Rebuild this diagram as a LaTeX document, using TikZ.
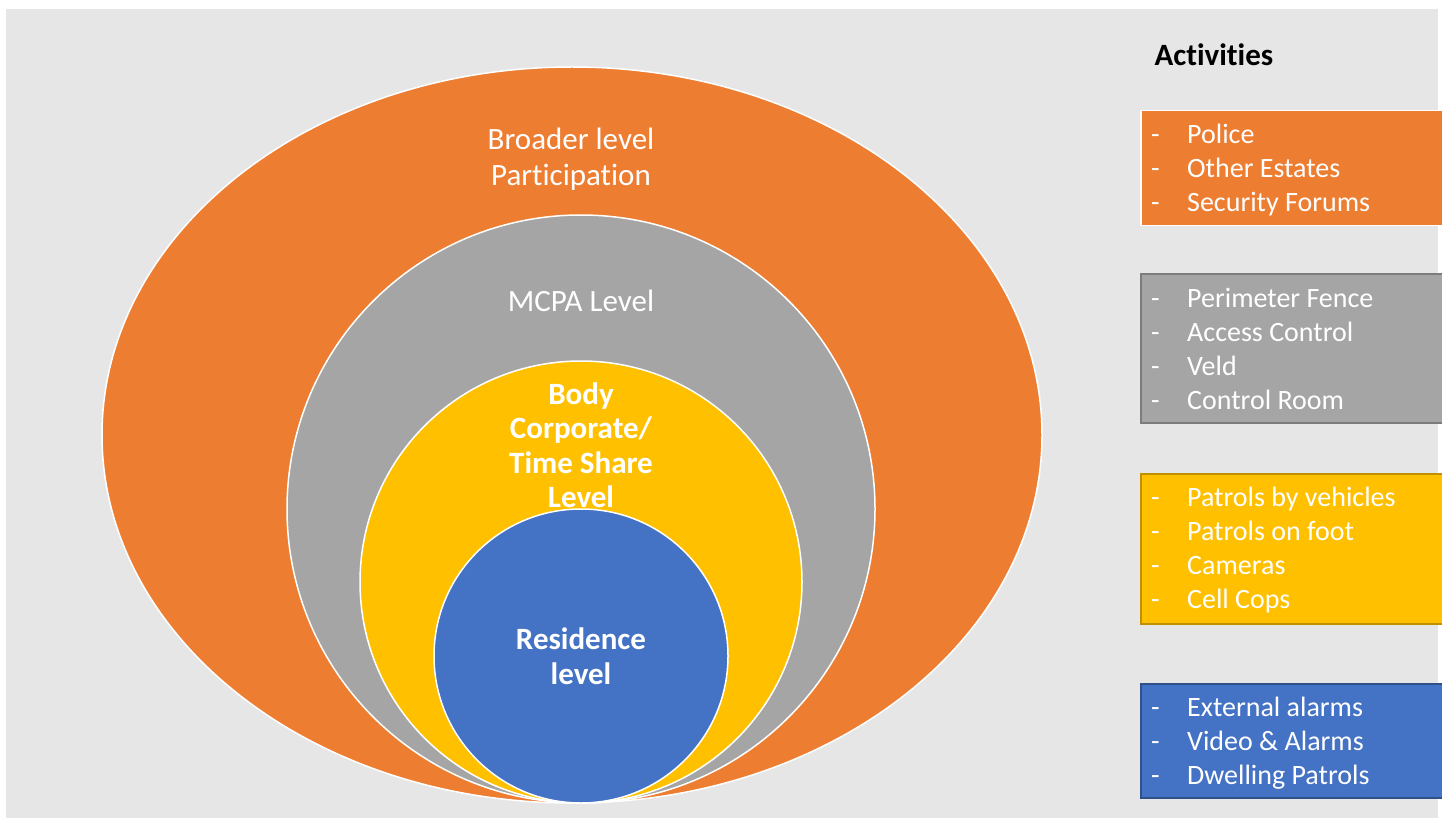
\documentclass[tikz,border=0pt]{standalone}
\usepackage{fontspec}
\setmainfont{Carlito}[Ligatures=NoCommon]
\usepackage{xcolor}

\definecolor{bggray}{HTML}{E7E6E6}
\definecolor{lvorange}{HTML}{ED7D31}
\definecolor{lvgray}{HTML}{A5A5A5}
\definecolor{lvyellow}{HTML}{FFC000}
\definecolor{lvblue}{HTML}{4472C4}

% one line of an activity list: dash, then the item
\newcommand{\actitem}[1]{\makebox[36pt][l]{-}#1}

\begin{document}
\begin{tikzpicture}[x=1pt,y=-1pt,
  level/.style={draw=white,line width=1.5pt},
  lvlabel/.style={text=white,align=center,inner sep=0pt,font=\fontsize{31}{36}\selectfont},
  lvbold/.style={lvlabel,font=\bfseries\fontsize{31}{34.5}\selectfont},
  actbox/.style={anchor=north west,minimum width=310pt,inner sep=0pt,line width=1.5pt},
  actlist/.style={anchor=west,text=white,align=left,inner sep=0pt,font=\fontsize{28}{34}\selectfont}]
  \useasboundingbox (0,0) rectangle (1442,818);
  \fill[bggray] (6,9) rectangle (1438,818);

  % nested levels, all touching at the bottom
  \path[level,fill=lvorange] (572,435) ellipse [x radius=470pt, y radius=368pt];
  \path[level,fill=lvgray] (581,509) circle [radius=294pt];
  \path[level,fill=lvyellow] (581,582) circle [radius=221pt];
  \path[level,fill=lvblue] (581,656) circle [radius=147pt];

  \node[lvlabel] (broad) at (571,159) {Broader level\\Participation};
  \node[lvlabel] (mcpa) at (581,301) {MCPA Level};
  \node[lvbold] (body) at (581,445) {Body\\Corporate/\\Time Share\\Level};
  \node[lvbold] (res) at (581,656) {Residence\\level};

  % activities per level
  \node[anchor=west,font=\bfseries\fontsize{31}{36}\selectfont] (head) at (1151,55) {Activities};

  \node[actbox,fill=lvorange,draw=white,minimum height=115pt] (broadbox) at (1140,110) {};
  \node[actlist] (broadlist) at ([xshift=11pt,yshift=-2pt]broadbox.west) {\actitem{Police}\\\actitem{Other Estates}\\\actitem{Security Forums}};

  \node[actbox,fill=lvgray,draw=lvgray!75!black,minimum height=149pt] (mcpabox) at (1140,273) {};
  \node[actlist] (mcpalist) at ([xshift=11pt,yshift=-1pt]mcpabox.west) {\actitem{Perimeter Fence}\\\actitem{Access Control}\\\actitem{Veld}\\\actitem{Control Room}};

  \node[actbox,fill=lvyellow,draw=lvyellow!75!black,minimum height=150pt] (bodybox) at (1140,473) {};
  \node[actlist] (bodylist) at ([xshift=11pt,yshift=-1pt]bodybox.west) {\actitem{Patrols by vehicles}\\\actitem{Patrols on foot}\\\actitem{Cameras}\\\actitem{Cell Cops}};

  \node[actbox,fill=lvblue,draw=lvblue!70!black,minimum height=114pt] (resbox) at (1140,683) {};
  \node[actlist] (reslist) at ([xshift=11pt,yshift=-2pt]resbox.west) {\actitem{External alarms}\\\actitem{Video \& Alarms}\\\actitem{Dwelling Patrols}};
\end{tikzpicture}
\end{document}
